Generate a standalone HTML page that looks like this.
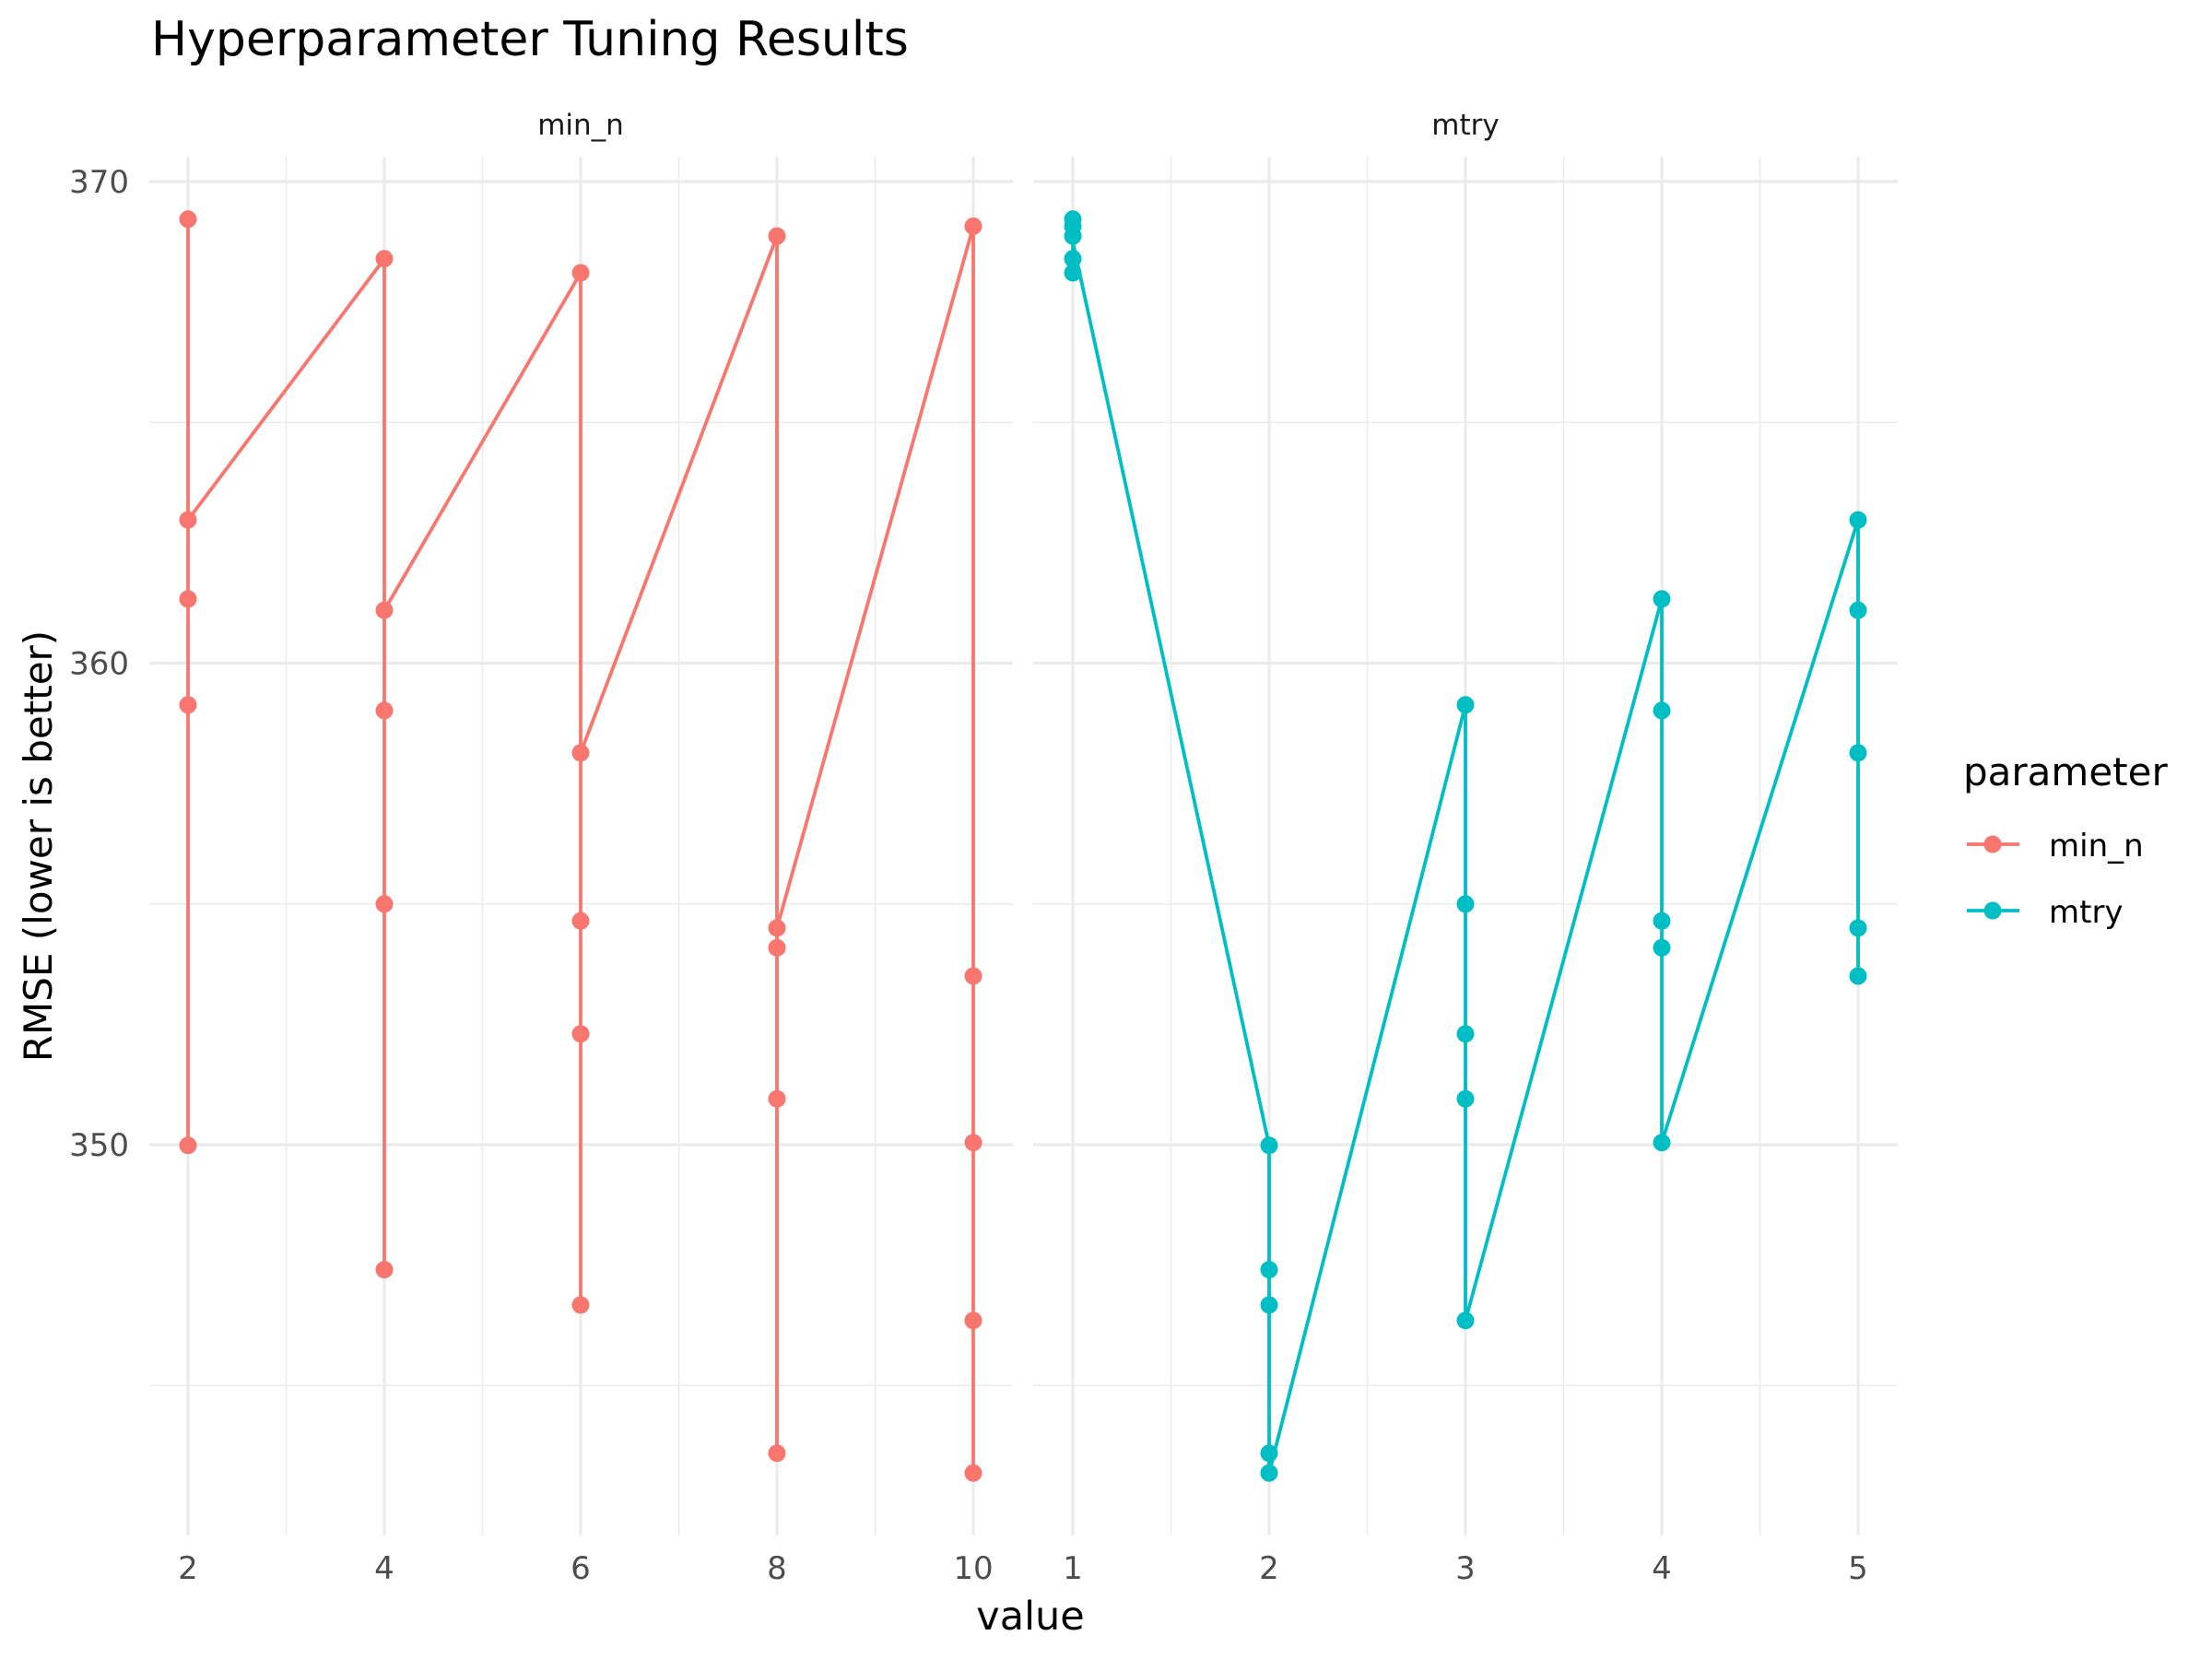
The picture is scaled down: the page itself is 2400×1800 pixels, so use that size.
<!DOCTYPE html>
<html><head><meta charset="utf-8"><style>html,body{margin:0;padding:0;background:#fff}svg{display:block}text{font-family:"DejaVu Sans","Liberation Sans",sans-serif}</style></head>
<body>
<svg id="s" width="2400" height="1800" viewBox="0 0 2400 1800" xmlns="http://www.w3.org/2000/svg">
<g id="g"></g>
<text x="164" y="60" font-size="52" fill="#000">Hyperparameter Tuning Results</text>
<text x="630" y="146" font-size="31" fill="#1a1a1a" text-anchor="middle">min_n</text>
<text x="1590" y="146" font-size="31" fill="#1a1a1a" text-anchor="middle">mtry</text>
<text x="1118" y="1768" font-size="43" fill="#000" text-anchor="middle">value</text>
<text transform="translate(56,918) rotate(-90)" font-size="42" fill="#000" text-anchor="middle">RMSE (lower is better)</text>
<text x="2130" y="852" font-size="42" fill="#000">parameter</text>
<line x1="2134" y1="916" x2="2191" y2="916" stroke="#F8766D" stroke-width="3.8"/><circle cx="2162" cy="916" r="9.5" fill="#F8766D"/>
<text x="2223" y="929" font-size="34" fill="#000">min_n</text>
<line x1="2134" y1="988" x2="2191" y2="988" stroke="#00BFC4" stroke-width="3.8"/><circle cx="2162" cy="988" r="9.5" fill="#00BFC4"/>
<text x="2223" y="1001" font-size="34" fill="#000">mtry</text>
<g id="d"></g>
</svg>
<script>
(function(){
var h='',h2='';
var Y=function(v){return 197+(370-v)*52.25};
var yd=function(d){return 1.532*d-1.2};
var pt=170,pb=1666;
var P=[{x0:162,x1:1099,X:function(v){return 204+(v-2)*106.5},maj:[2,4,6,8,10],min:[3,5,7,9]},
       {x0:1121,x1:2059,X:function(v){return 1164+(v-1)*213},maj:[1,2,3,4,5],min:[1.5,2.5,3.5,4.5]}];
P.forEach(function(p){
 [345,355,365].forEach(function(v){h+='<line x1="'+p.x0+'" x2="'+p.x1+'" y1="'+Y(v)+'" y2="'+Y(v)+'" stroke="#EBEBEB" stroke-width="1.6"/>';});
 p.min.forEach(function(v){h+='<line y1="'+pt+'" y2="'+pb+'" x1="'+p.X(v)+'" x2="'+p.X(v)+'" stroke="#EBEBEB" stroke-width="1.6"/>';});
 [350,360,370].forEach(function(v){h+='<line x1="'+p.x0+'" x2="'+p.x1+'" y1="'+Y(v)+'" y2="'+Y(v)+'" stroke="#EBEBEB" stroke-width="3.2"/>';});
 p.maj.forEach(function(v){h+='<line y1="'+pt+'" y2="'+pb+'" x1="'+p.X(v)+'" x2="'+p.X(v)+'" stroke="#EBEBEB" stroke-width="3.2"/>';
  h+='<text x="'+p.X(v)+'" y="1713" font-size="34" fill="#4d4d4d" text-anchor="middle">'+v+'</text>';});
});
[350,360,370].forEach(function(v){h+='<text x="140" y="'+(Y(v)+12)+'" font-size="34" fill="#4d4d4d" text-anchor="end">'+v+'</text>';});
function series(p,col,data,links){
 data.forEach(function(d){var ys=d[1].map(yd);var mn=Math.min.apply(null,ys),mx=Math.max.apply(null,ys);
  h2+='<line x1="'+p.X(d[0])+'" x2="'+p.X(d[0])+'" y1="'+mn+'" y2="'+mx+'" stroke="'+col+'" stroke-width="3.8"/>';});
 links.forEach(function(l){h2+='<line x1="'+p.X(l[0])+'" y1="'+yd(l[1])+'" x2="'+p.X(l[2])+'" y2="'+yd(l[3])+'" stroke="'+col+'" stroke-width="3.8"/>';});
 data.forEach(function(d){d[1].forEach(function(y){h2+='<circle cx="'+p.X(d[0])+'" cy="'+yd(y)+'" r="9.5" fill="'+col+'"/>';});});
}
series(P[0],'#F8766D',[[2,[156,369,425,500,812]],[4,[184,433,504,641,900]],[6,[194,534,653,733,925]],[8,[168,658,672,779,1030]],[10,[161,692,810,936,1044]]],
 [[2,369,4,184],[4,433,6,194],[6,534,8,168],[8,658,10,161]]);
series(P[1],'#00BFC4',[[1,[156,161,168,184,194]],[2,[812,900,925,1030,1044]],[3,[500,641,733,779,936]],[4,[425,504,653,672,810]],[5,[369,433,534,658,692]]],
 [[1,172,2,812],[2,1044,3,500],[3,936,4,425],[4,810,5,369]]);
document.getElementById('g').innerHTML=h;
document.getElementById('d').innerHTML=h2;
})();
</script>
</body></html>
